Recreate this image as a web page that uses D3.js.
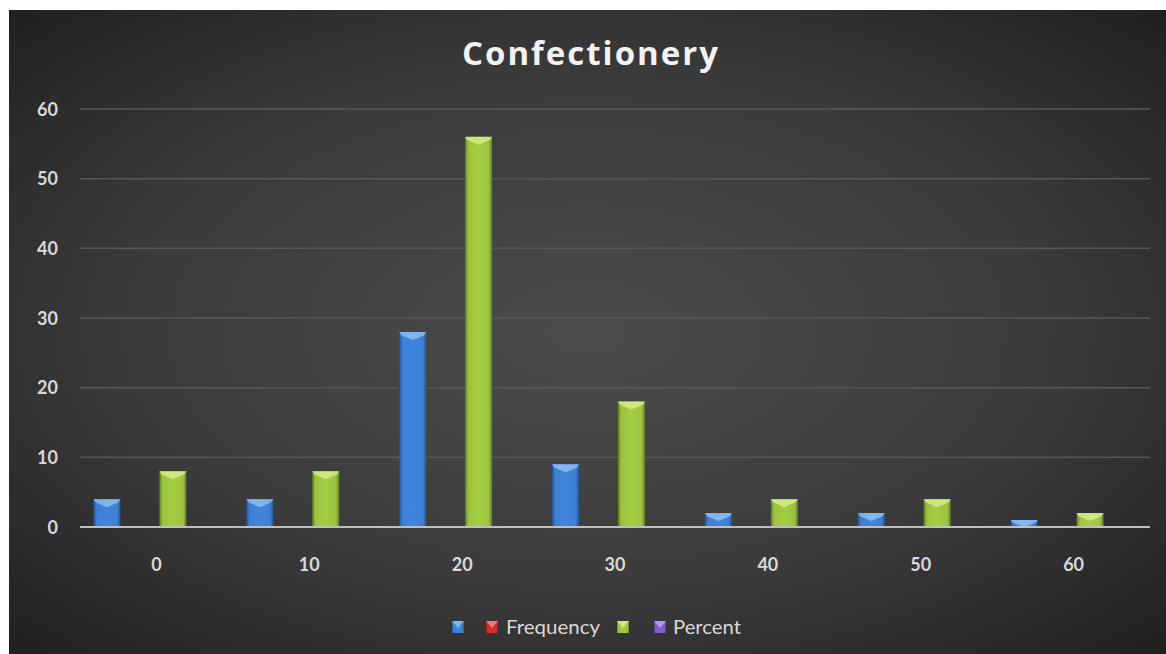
<!DOCTYPE html>
<html>
<head>
<meta charset="utf-8">
<script src="https://cdn.jsdelivr.net/npm/d3@7"></script>
<style>
  html, body { margin: 0; padding: 0; background: #ffffff; }
  svg { display: block; }
</style>
</head>
<body>
<svg id="chart" width="1166" height="654"></svg>
<script>
// Category labels along the x axis
const categories = ["0", "10", "20", "30", "40", "50", "60"];
// Series names as shown in the legend (two are unnamed)
const seriesNames = ["", "Frequency", "", "Percent"];
// Values per series
const seriesA = [4, 4, 28, 9, 2, 2, 1];
const frequency = [null, null, null, null, null, null, null];
const seriesB = [8, 8, 56, 18, 4, 4, 2];
const percent = [null, null, null, null, null, null, null];
// Y axis ticks
const yTicks = [0, 10, 20, 30, 40, 50, 60];
// Series colours: base, dark edge, light highlight
const palette = [
  { base: "#3d7fd3", dark: "#24528f", light: "#8cbdf5" },
  { base: "#c9302c", dark: "#8a1c1a", light: "#f08a86" },
  { base: "#9cc23f", dark: "#5f7d22", light: "#d3ec8a" },
  { base: "#7d5cc6", dark: "#4d3487", light: "#b8a2ee" }
];

const seriesValues = [seriesA, frequency, seriesB, percent];
const seriesKeys = seriesNames.map((n, i) => "s" + i);

const svg = d3.select("#chart");
const W = 1166, H = 654;
const defs = svg.append("defs");

// Chart area background: dark radial gradient
const bg = defs.append("radialGradient").attr("id", "bgGrad")
  .attr("cx", "0.5").attr("cy", "0.5").attr("r", "0.72");
bg.append("stop").attr("offset", "0").attr("stop-color", "#4c4c4c");
bg.append("stop").attr("offset", "0.55").attr("stop-color", "#3b3b3b");
bg.append("stop").attr("offset", "1").attr("stop-color", "#1f1f1f");

svg.append("rect").attr("x", 9).attr("y", 10)
  .attr("width", W - 9).attr("height", H - 10)
  .attr("fill", "url(#bgGrad)");

// Bar gradients (bevelled look)
palette.forEach((c, i) => {
  const g = defs.append("linearGradient").attr("id", "barGrad" + i)
    .attr("x1", "0").attr("x2", "1").attr("y1", "0").attr("y2", "0");
  g.append("stop").attr("offset", "0").attr("stop-color", c.dark);
  g.append("stop").attr("offset", "0.12").attr("stop-color", c.base);
  g.append("stop").attr("offset", "0.5").attr("stop-color", d3.color(c.base).brighter(0.15));
  g.append("stop").attr("offset", "0.88").attr("stop-color", c.base);
  g.append("stop").attr("offset", "1").attr("stop-color", c.dark);
});

// Scales
const plot = { left: 80, right: 1150, top: 109, bottom: 527 };
const x0 = d3.scaleBand().domain(categories)
  .range([plot.left, plot.right])
  .paddingInner(0.1766).paddingOuter(0.0883);
const x1 = d3.scaleBand().domain(seriesKeys)
  .range([0, x0.bandwidth()])
  .paddingInner(0.18).paddingOuter(0);
const y = d3.scaleLinear().domain([0, 60]).range([plot.bottom, plot.top]);

const labelFont = "Lato, 'Open Sans', sans-serif";

// Gridlines
svg.append("g").selectAll("line")
  .data(yTicks.filter(t => t > 0))
  .join("line")
  .attr("x1", plot.left).attr("x2", plot.right)
  .attr("y1", d => y(d)).attr("y2", d => y(d))
  .attr("stroke", "#575757").attr("stroke-width", 1.5);

// Y axis labels
const yAxis = d3.axisLeft(y).tickValues(yTicks).tickSize(0).tickPadding(0);
const yG = svg.append("g").attr("transform", `translate(58,0)`).call(yAxis);
yG.select(".domain").remove();
yG.selectAll("text")
  .attr("fill", "#d9d9d9").attr("font-family", labelFont)
  .attr("font-weight", 700).attr("font-size", 18).attr("dy", "0.35em");

// X axis labels
const xAxis = d3.axisBottom(x0).tickSize(0).tickPadding(0);
const xG = svg.append("g").attr("transform", `translate(0,${plot.bottom})`).call(xAxis);
xG.select(".domain").remove();
xG.selectAll("text")
  .attr("fill", "#d9d9d9").attr("font-family", labelFont)
  .attr("font-weight", 700).attr("font-size", 18)
  .attr("y", 38).attr("dy", "0.35em");

// Bars
const rows = categories.map((c, ci) => ({
  cat: c,
  vals: seriesKeys.map((k, si) => ({ key: k, si, v: seriesValues[si][ci] }))
}));

const groups = svg.append("g").selectAll("g")
  .data(rows).join("g")
  .attr("transform", d => `translate(${x0(d.cat)},0)`);

const bars = groups.selectAll("g.bar")
  .data(d => d.vals.filter(v => v.v != null && v.v > 0))
  .join("g").attr("class", "bar");

bars.append("rect")
  .attr("x", d => x1(d.key))
  .attr("y", d => y(d.v))
  .attr("width", x1.bandwidth())
  .attr("height", d => y(0) - y(d.v))
  .attr("fill", d => `url(#barGrad${d.si})`);

// Top bevel highlight
bars.append("path")
  .attr("d", d => {
    const bx = x1(d.key), bw = x1.bandwidth(), by = y(d.v);
    const h = Math.min(8, y(0) - y(d.v));
    return `M${bx},${by}L${bx + bw},${by}L${bx + bw - 2},${by + h * 0.4}L${bx + bw / 2},${by + h}L${bx + 2},${by + h * 0.4}Z`;
  })
  .attr("fill", d => palette[d.si].light)
  .attr("opacity", 0.85);

// X axis line
svg.append("line")
  .attr("x1", plot.left).attr("x2", plot.right)
  .attr("y1", y(0)).attr("y2", y(0))
  .attr("stroke", "#bfbfbf").attr("stroke-width", 2);

// Title
svg.append("text")
  .attr("x", 590).attr("y", 65)
  .attr("text-anchor", "middle")
  .attr("fill", "#f2f2f2").attr("font-family", "'Open Sans', Lato, sans-serif")
  .attr("font-weight", 700).attr("font-size", 33)
  .attr("textLength", 256).attr("lengthAdjust", "spacing")
  .text("Confectionery");

// Legend
const legendItems = [
  { si: 0, mx: 458, tx: null, len: 0 },
  { si: 1, mx: 492, tx: 506, len: 94 },
  { si: 2, mx: 623, tx: null, len: 0 },
  { si: 3, mx: 660, tx: 673, len: 68 }
];
const lg = svg.append("g");
legendItems.forEach(it => {
  const c = palette[it.si];
  const s = 12, cy = 627;
  lg.append("rect")
    .attr("x", it.mx - s / 2).attr("y", cy - s / 2)
    .attr("width", s).attr("height", s)
    .attr("fill", `url(#barGrad${it.si})`);
  lg.append("path")
    .attr("d", `M${it.mx - s / 2},${cy - s / 2}L${it.mx + s / 2},${cy - s / 2}L${it.mx},${cy + 1}Z`)
    .attr("fill", c.light).attr("opacity", 0.85);
  if (it.tx != null) {
    lg.append("text")
      .attr("x", it.tx).attr("y", cy).attr("dy", "0.35em")
      .attr("fill", "#d9d9d9").attr("font-family", labelFont)
      .attr("font-size", 20)
      .attr("textLength", it.len).attr("lengthAdjust", "spacingAndGlyphs")
      .text(seriesNames[it.si]);
  }
});
</script>
</body>
</html>
